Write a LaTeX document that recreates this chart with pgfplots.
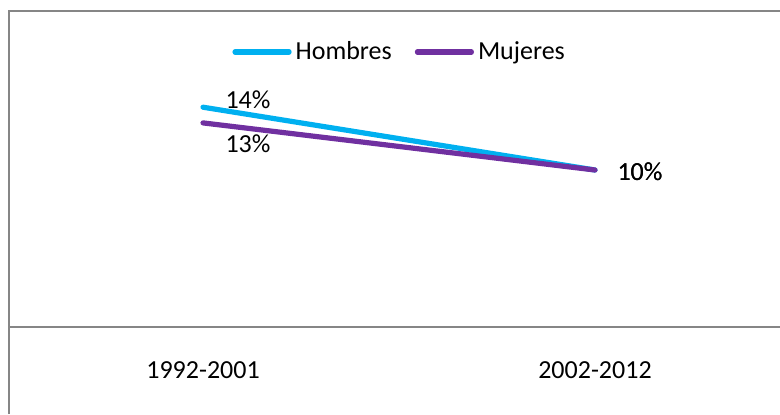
\documentclass[border=0pt]{standalone}
\usepackage{fontspec}
\setmainfont{Carlito}
\usepackage{pgfplots}
\usepackage{pgfplotstable}
\pgfplotsset{compat=1.18}

\definecolor{hombres}{HTML}{00B0F0}
\definecolor{mujeres}{HTML}{7030A0}
\definecolor{frame}{HTML}{868686}

% x = category index, y = percent, dy = label shift (pt)
\pgfplotstableread{
x y dy
0 14 3.5
1 10 -1
}\hombres
\pgfplotstableread{
x y dy
0 13 -10.5
1 10 -1
}\mujeres

\begin{document}
\begin{tikzpicture}
  \useasboundingbox (0,0) rectangle (390pt,207pt);
  % chart border (runs off the right and bottom edges)
  \draw[frame, line width=1pt] (4.5pt,0pt) -- (4.5pt,201.5pt) -- (391pt,201.5pt);
  \begin{axis}[
    at={(4.5pt,43.5pt)}, anchor=south west,
    scale only axis,
    width=385.5pt, height=157pt,
    font=\fontsize{13}{15.6}\selectfont,
    xmin=-0.495, xmax=1.472,
    ymin=0, ymax=20,
    axis y line=none,
    axis x line*=bottom,
    x axis line style={frame, line width=1pt, -},
    xtick={0,1},
    xticklabels={1992-2001,2002-2012},
    major tick length=0pt,
    xticklabel style={anchor=center, yshift=-21.5pt},
    legend columns=2,
    legend style={at={(0.508,0.876)}, anchor=center, draw=none, fill=none,
      font=\fontsize{13}{15.6}\selectfont,
      /tikz/every even column/.append style={column sep=9.5pt}},
    legend image code/.code={\draw[#1, line cap=round] (0pt,0pt) -- (27pt,0pt);},
    nodes near coords={\pgfmathprintnumber[assume math mode=true]{\pgfplotspointmeta}\%},
    point meta=y,
    visualization depends on={\thisrow{dy} \as \dy},
    nodes near coords style={anchor=center, xshift=22.5pt, yshift=\dy pt, text=black},
  ]
    \addplot[hombres, line width=2.6pt, line cap=round, no markers] table[x=x, y=y] {\hombres};
    \addplot[mujeres, line width=2.6pt, line cap=round, no markers] table[x=x, y=y] {\mujeres};
    \legend{Hombres, Mujeres}
  \end{axis}
\end{tikzpicture}
\end{document}
